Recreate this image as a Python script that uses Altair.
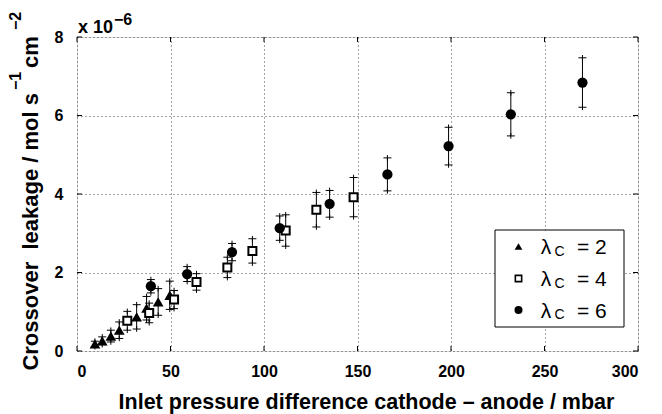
import altair as alt
import pandas as pd

# lambda_C = 2 (triangles)
tri_x = [9.6, 13.5, 18.1, 22.6, 31.9, 37.2, 43.4, 49.6]
tri_y = [0.18, 0.26, 0.38, 0.53, 0.87, 1.09, 1.25, 1.42]
tri_err = [0.07, 0.10, 0.15, 0.21, 0.31, 0.30, 0.34, 0.36]

# lambda_C = 4 (open squares)
sq_x = [26.9, 38.6, 51.9, 63.9, 80.4, 93.8, 111.6, 128.0, 147.9]
sq_y = [0.77, 0.97, 1.31, 1.76, 2.13, 2.55, 3.07, 3.60, 3.92]
sq_err = [0.24, 0.25, 0.23, 0.21, 0.26, 0.31, 0.40, 0.44, 0.50]

# lambda_C = 6 (filled circles)
ci_x = [39.5, 58.9, 82.9, 108.4, 135.1, 166.0, 198.7, 232.0, 270.3]
ci_y = [1.65, 1.96, 2.52, 3.13, 3.75, 4.50, 5.22, 6.03, 6.84]
ci_err = [0.17, 0.19, 0.22, 0.31, 0.34, 0.42, 0.48, 0.55, 0.63]

x_ticks = [0, 50, 100, 150, 200, 250, 300]
y_ticks = [0, 2, 4, 6, 8]
legend_labels = ["2", "4", "6"]

W, H = 561, 314
FONT = "Liberation Sans"

xs = alt.Scale(domain=[0, 300], nice=False, zero=False)
ys = alt.Scale(domain=[0, 8], nice=False, zero=False)

xaxis = alt.Axis(values=x_ticks, grid=True, gridDash=[1, 3], gridColor="#444",
                 gridWidth=1, tickSize=0, domain=False, labelFont=FONT,
                 labelFontWeight="bold", labelFontSize=16, labelColor="black",
                 labelPadding=12, title="Inlet pressure difference cathode – anode / mbar",
                 titleFont=FONT, titleFontWeight="bold", titleFontSize=21.5,
                 titleColor="black", titleX=289, titleY=57, titleAlign="center",
                 titleBaseline="alphabetic")
yaxis = alt.Axis(values=y_ticks, grid=True, gridDash=[1, 3], gridColor="#444",
                 gridWidth=1, tickSize=0, domain=False, labelFont=FONT,
                 labelFontWeight="bold", labelFontSize=16, labelColor="black",
                 labelPadding=14, title="")


def X(f):
    return alt.X(f, type="quantitative", scale=xs, axis=xaxis)


def Y(f):
    return alt.Y(f, type="quantitative", scale=ys, axis=yaxis)


def sdf(xv, yv, ev):
    return pd.DataFrame({"x": xv, "y": yv,
                         "lo": [a - b for a, b in zip(yv, ev)],
                         "hi": [a + b for a, b in zip(yv, ev)]})


def txt(t, x, y, size, weight="bold", align="left", angle=0):
    return alt.Chart(pd.DataFrame({"t": [t]})).mark_text(
        font=FONT, fontWeight=weight, fontSize=size, align=align,
        baseline="alphabetic", color="black", angle=angle).encode(
        x=alt.value(x), y=alt.value(y), text="t:N")


CAP = "M-1,0L1,0M0,-0.7L0,0.7"

layers = []
series = [
    (sdf(tri_x, tri_y, tri_err), "triangle-up", True, 115, 0),
    (sdf(sq_x, sq_y, sq_err), "square", False, 64, 2),
    (sdf(ci_x, ci_y, ci_err), "circle", True, 105, 0),
]
for df, shape, filled, size, sw in series:
    layers.append(alt.Chart(df).mark_rule(color="black", strokeWidth=1).encode(
        x=X("x"), y=Y("lo"), y2="hi"))
    for end in ["lo", "hi"]:
        layers.append(alt.Chart(df).mark_point(shape=CAP, filled=False, stroke="black",
                                               strokeWidth=1, size=64, opacity=1).encode(
            x=X("x"), y=Y(end)))
for df, shape, filled, size, sw in series:
    if filled:
        m = alt.Chart(df).mark_point(shape=shape, filled=True, fill="black",
                                     stroke="black", strokeWidth=0, size=size, opacity=1)
    else:
        m = alt.Chart(df).mark_point(shape=shape, filled=False, fill="white",
                                     stroke="black", strokeWidth=sw, size=size, opacity=1)
    layers.append(m.encode(x=X("x"), y=Y("y")))

# inner ticks on all four sides
xt = pd.DataFrame({"x": x_ticks})
yt = pd.DataFrame({"y": y_ticks})
layers.append(alt.Chart(xt).mark_rule(color="black").encode(
    x=X("x"), y=alt.value(H), y2=alt.value(H - 5)))
layers.append(alt.Chart(xt).mark_rule(color="black").encode(
    x=X("x"), y=alt.value(0), y2=alt.value(5)))
layers.append(alt.Chart(yt).mark_rule(color="black").encode(
    y=Y("y"), x=alt.value(0), x2=alt.value(5)))
layers.append(alt.Chart(yt).mark_rule(color="black").encode(
    y=Y("y"), x=alt.value(W), x2=alt.value(W - 5)))

# y-axis title built from pieces (rotated), with real superscripts
layers.append(txt("Crossover\u00a0 leakage / mol s", -39.5, 56, 22, align="right", angle=270))
layers.append(txt("−1", -56, 53, 16, angle=270))
layers.append(txt("cm", -39.5, 31, 22, angle=270))
layers.append(txt("−2", -56, -7, 16, angle=270))

# exponent label
layers.append(txt("x 10", 1, -4, 18))
layers.append(txt("−6", 37, -12, 16))

# legend box
layers.append(alt.Chart(pd.DataFrame({"a": [0]})).mark_rect(
    fill="white", stroke="black", strokeWidth=1).encode(
    x=alt.value(418), x2=alt.value(547), y=alt.value(193), y2=alt.value(290)))
leg_shapes = [("triangle-up", True, 60), ("square", False, 40), ("circle", True, 64)]
row_y = [217, 249, 280.5]
for (shape, filled, size), lab, by in zip(leg_shapes, legend_labels, row_y):
    d = pd.DataFrame({"a": [0]})
    if filled:
        pm = alt.Chart(d).mark_point(shape=shape, filled=True, fill="black",
                                     strokeWidth=0, size=size, opacity=1)
    else:
        pm = alt.Chart(d).mark_point(shape=shape, filled=False, fill="white",
                                     stroke="black", strokeWidth=1.6, size=size, opacity=1)
    layers.append(pm.encode(x=alt.value(441.5), y=alt.value(by - 7.5)))
    layers.append(txt("λ", 469, by, 21, weight="normal", align="center"))
    layers.append(txt("C", 482.5, by + 1.7, 14, weight="normal", align="center"))
    layers.append(txt("= " + lab, 500, by, 21, weight="normal"))

chart = alt.layer(*layers).properties(
    width=W, height=H,
    autosize=alt.AutoSizeParams(type="none"),
    padding={"left": 69, "top": 29, "right": 16, "bottom": 63},
).configure_view(stroke="black", strokeWidth=1.2).configure(background="white")

chart.save("out.html", embed_options={"renderer": "svg", "actions": False})
